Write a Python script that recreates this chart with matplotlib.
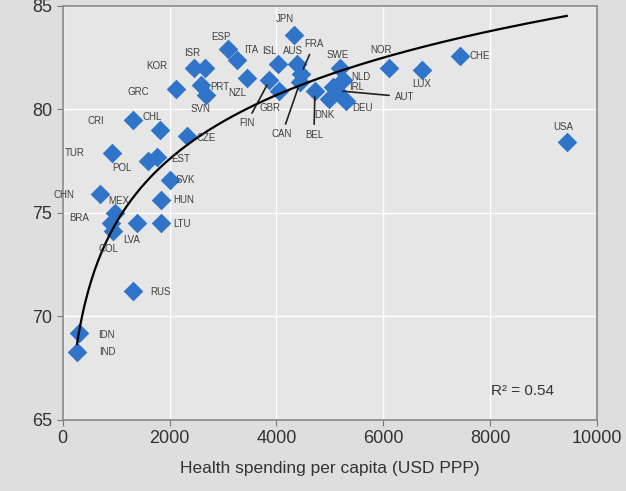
import numpy as np
import matplotlib.pyplot as plt

plt.rcParams["font.family"] = ["Liberation Sans", "DejaVu Sans"]

countries = [
    "JPN", "ESP", "ITA", "ISL", "AUS", "FRA", "SWE", "NOR", "LUX", "CHE",
    "USA", "NLD", "IRL", "AUT", "DEU", "DNK", "BEL", "CAN", "GBR", "FIN",
    "NZL", "ISR", "KOR", "GRC", "PRT", "SVN", "CHL", "CRI", "CZE", "TUR",
    "POL", "EST", "SVK", "HUN", "LTU", "CHN", "MEX", "BRA", "COL", "LVA",
    "RUS", "IDN", "IND",
]

spending = np.array([
    4320, 3090, 3270, 4020, 4380, 4460, 5180, 6100, 6720, 7430,
    9430, 5240, 5050, 5140, 5300, 4980, 4720, 4440, 4040, 3870,
    3450, 2670, 2450, 2130, 2580, 2690, 1820, 1320, 2330, 930,
    1590, 1770, 2000, 1840, 1840, 700, 980, 910, 950, 1390,
    1320, 300, 270,
])

life_exp = np.array([
    83.6, 82.9, 82.4, 82.2, 82.2, 81.7, 82.0, 82.0, 81.9, 82.6,
    78.4, 81.4, 81.1, 80.9, 80.4, 80.5, 80.9, 81.3, 80.9, 81.4,
    81.5, 82.0, 82.0, 81.0, 81.2, 80.7, 79.0, 79.5, 78.7, 77.9,
    77.5, 77.7, 76.6, 75.6, 74.5, 75.9, 75.0, 74.5, 74.1, 74.5,
    71.2, 69.2, 68.3,
])

# logarithmic trend line as shown: y = a + b * ln(x), R² = 0.54
trend_a = 43.7
trend_b = 4.46
r_squared = 0.54

# label offsets in pixels (dx, dy), and which labels get a leader line
label_offsets = {
    "JPN": (-9, 16), "ESP": (-7, 12), "ITA": (14, 10), "ISL": (-8, 13),
    "AUS": (-4, 13), "FRA": (13, 30), "SWE": (-2, 13), "NOR": (-8, 18),
    "LUX": (0, -14), "CHE": (20, 0), "USA": (-3, 15), "NLD": (18, 3),
    "IRL": (24, 0), "AUT": (67, -6), "DEU": (17, -7), "DNK": (-4, -16),
    "BEL": (-1, -44), "CAN": (-18, -52), "GBR": (-9, -17), "FIN": (-23, -43),
    "NZL": (-10, -15), "ISR": (-13, 15), "KOR": (-37, 2), "GRC": (-38, -3),
    "PRT": (19, -2), "SVN": (-6, -14), "CHL": (-8, 13), "CRI": (-37, -1),
    "CZE": (19, -2), "TUR": (-38, 0), "POL": (-26, -7), "EST": (23, -2),
    "SVK": (16, 0), "HUN": (23, 0), "LTU": (21, -1), "CHN": (-36, -1),
    "MEX": (4, 12), "BRA": (-32, 5), "COL": (-5, -18), "LVA": (-5, -17),
    "RUS": (27, -1), "IDN": (28, -2), "IND": (30, 0),
}
leader = {"FRA", "AUT", "BEL", "CAN", "FIN"}

fig = plt.figure(figsize=(6.26, 4.91), dpi=100, facecolor="#dedede")
ax = fig.add_axes([0.10, 0.145, 0.854, 0.843])
ax.set_facecolor("#e6e6e6")

ax.set_axisbelow(True)
ax.grid(True, color="white", linewidth=1.0)

ax.scatter(spending, life_exp, marker="D", s=100, color="#2f74c9", zorder=3,
           linewidths=0)

xs = np.linspace(spending.min(), spending.max(), 300)
ax.plot(xs, trend_a + trend_b * np.log(xs), color="black", linewidth=1.6,
        zorder=4)

for name, x, y in zip(countries, spending, life_exp):
    dx, dy = label_offsets[name]
    kw = {}
    if name in leader:
        kw["arrowprops"] = dict(arrowstyle="-", color="#222222", lw=1.2,
                                shrinkA=2, shrinkB=4)
    ax.annotate(name, (x, y), xytext=(dx, dy), textcoords="offset pixels",
                ha="center", va="center", fontsize=7, color="#404040",
                zorder=5, **kw)

ax.text(0.92, 0.07, f"R² = {r_squared:.2f}", transform=ax.transAxes,
        ha="right", va="center", fontsize=11, color="#333333")

ax.set_xlim(0, 10000)
ax.set_ylim(65, 85)
ax.set_xticks(np.arange(0, 10001, 2000))
ax.set_yticks(np.arange(65, 86, 5))
ax.tick_params(labelsize=13, colors="#333333", length=4, color="#777777")
ax.set_xlabel("Health spending per capita (USD PPP)", fontsize=12.5,
              color="#333333", labelpad=10)

for sp in ax.spines.values():
    sp.set_color("#888888")
    sp.set_linewidth(1.2)

fig.savefig("out.png", dpi=100, facecolor=fig.get_facecolor())
